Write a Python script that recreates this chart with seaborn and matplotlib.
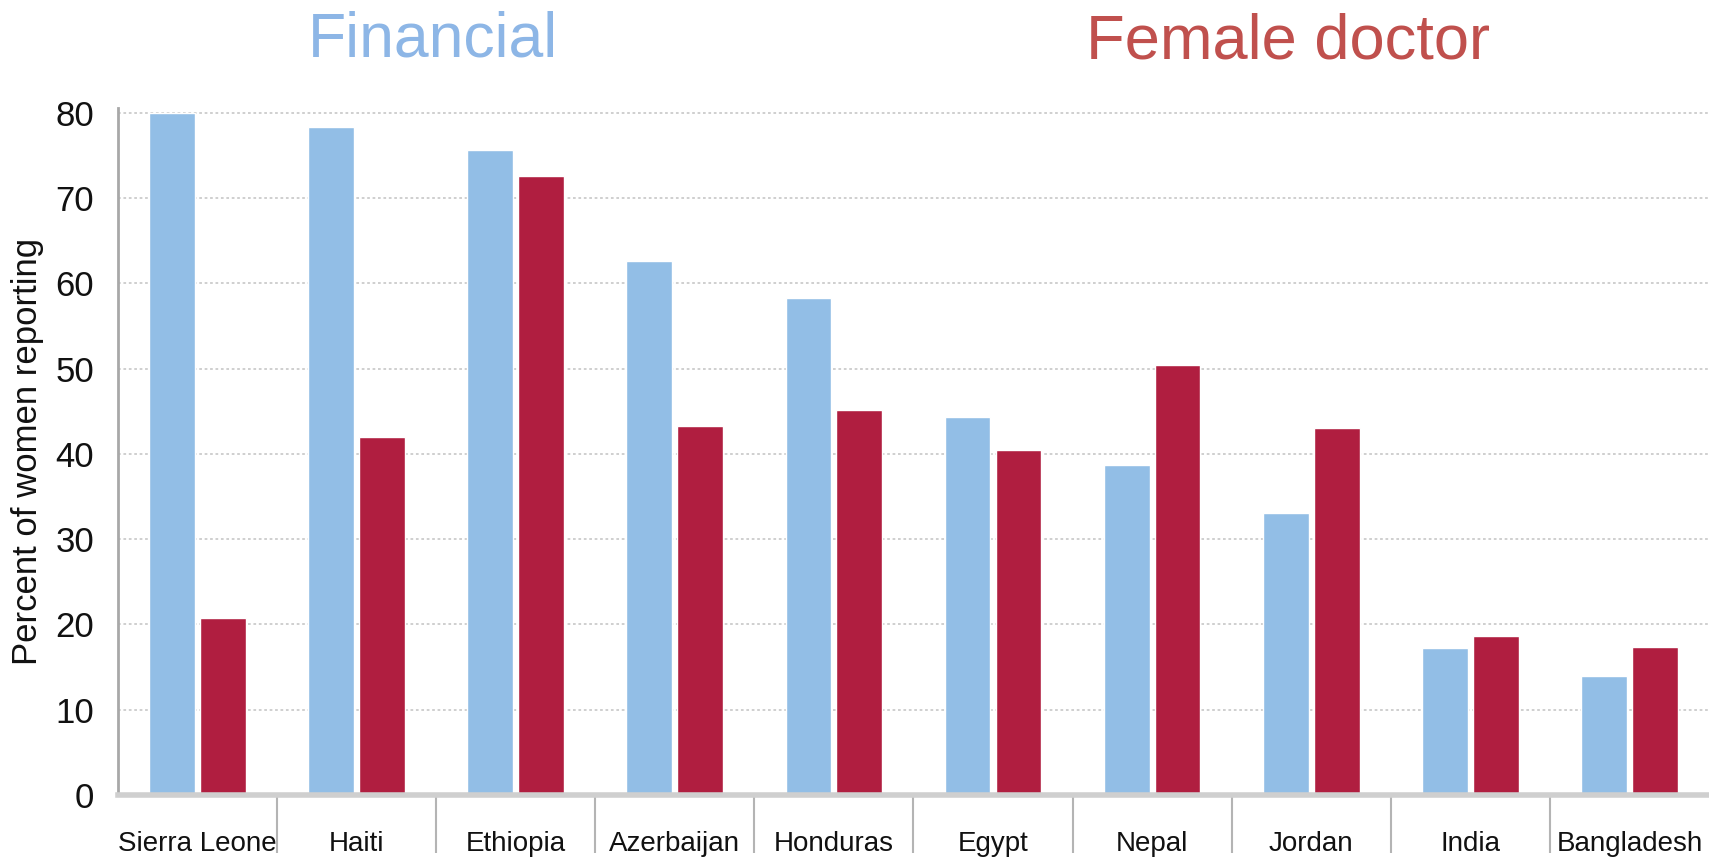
import matplotlib
matplotlib.use("Agg")
import matplotlib.pyplot as plt
import seaborn as sns
import pandas as pd

countries = ["Sierra Leone", "Haiti", "Ethiopia", "Azerbaijan", "Honduras",
             "Egypt", "Nepal", "Jordan", "India", "Bangladesh"]
financial = [80.0, 78.3, 75.7, 62.6, 58.3, 44.3, 38.7, 33.1, 17.3, 13.9]
female_doctor = [20.8, 42.0, 72.6, 43.3, 45.2, 40.5, 50.4, 43.1, 18.7, 17.4]
series_names = ["Financial", "Female doctor"]
yticks = [0, 10, 20, 30, 40, 50, 60, 70, 80]

df = pd.DataFrame({
    "country": countries * 2,
    "series": [series_names[0]] * len(countries) + [series_names[1]] * len(countries),
    "value": financial + female_doctor,
})

sns.set_style("white")
plt.rcParams["font.family"] = ["Liberation Sans", "DejaVu Sans"]

fig = plt.figure(figsize=(17.09, 8.59), dpi=100)
ax = fig.add_axes([0.069, 0.0745, 0.931, 0.80])

blue = "#92BEE6"
red = "#B01E40"
sns.barplot(data=df, x="country", y="value", hue="series", order=countries,
            hue_order=series_names, palette=[blue, red], width=0.64, gap=0.1,
            saturation=1, legend=False, ax=ax)

ax.set_xlim(-0.5, len(countries) - 0.5)
ax.set_ylim(0, 80.6)
ax.set_yticks(yticks)
ax.set_yticklabels([str(t) for t in yticks], fontsize=25, color="#111111")
ax.tick_params(axis="y", length=0, pad=17)
ax.tick_params(axis="x", which="major", length=0, pad=26, labelsize=20, labelcolor="#111111")
ax.set_xticks([i + 0.5 for i in range(len(countries) - 1)], minor=True)
ax.tick_params(axis="x", which="minor", bottom=True, length=42, width=1.5,
               color="#B4B4B4", direction="out")
ax.set_xlabel("")
ax.set_ylabel("Percent of women reporting", fontsize=25, labelpad=8, color="#111111")

ax.yaxis.grid(True, linestyle=(0, (1.5, 1.5)), color="#CCCCCC", linewidth=1.3)
ax.set_axisbelow(True)
for s in ["top", "right"]:
    ax.spines[s].set_visible(False)
ax.spines["left"].set_color("#A8A8A8")
ax.spines["left"].set_linewidth(2)
ax.spines["bottom"].set_color("#CFCFCF")
ax.spines["bottom"].set_linewidth(4)

fig.text(433 / 1709, 1 - 40 / 859, "Financial", color="#8DB6E6", fontsize=45,
         ha="center", va="center")
fig.text(1288 / 1709, 1 - 42 / 859, "Female doctor", color="#C0504D", fontsize=45.5,
         ha="center", va="center")

fig.savefig("out.png", dpi=100)
